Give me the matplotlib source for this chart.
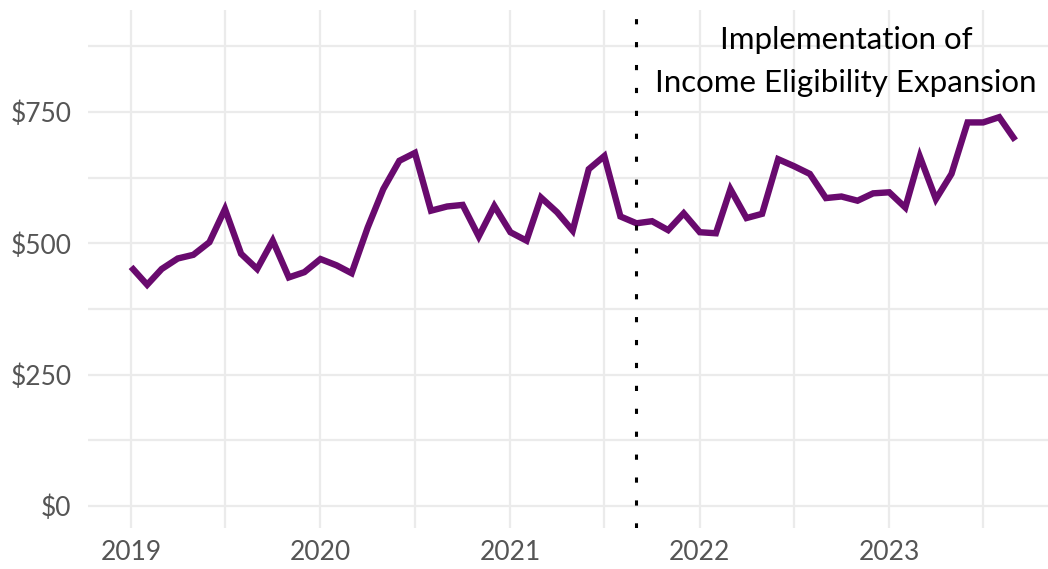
import numpy as np
import pandas as pd
import matplotlib
matplotlib.use("Agg")
import matplotlib.pyplot as plt
import matplotlib.dates as mdates
from matplotlib.ticker import FuncFormatter

# monthly average amount, Jan 2019 - Sep 2023
values = [
    455, 421, 451, 471, 478, 502, 565, 480, 451, 505, 435, 445,  # 2019
    470, 458, 443, 530, 603, 657, 672, 562, 570, 573, 513, 571,  # 2020
    521, 505, 587, 559, 524, 641, 666, 551, 538, 542, 525, 557,  # 2021
    521, 519, 603, 548, 556, 660, 647, 632, 586, 589, 581, 595,  # 2022
    597, 568, 665, 584, 632, 730, 730, 740, 696,                 # 2023
]
start_month = "2019-01-01"
policy_date = "2021-09-01"
note_text = "Implementation of\nIncome Eligibility Expansion"
y_ticks = [0, 250, 500, 750]
year_ticks = ["2019", "2020", "2021", "2022", "2023"]

months = pd.date_range(start_month, periods=len(values), freq="MS")

plt.rcParams["font.family"] = ["Lato", "DejaVu Sans"]

fig = plt.figure(figsize=(10.48, 5.69), dpi=100)
ax = fig.add_axes([88 / 1048, 41 / 569, 960 / 1048, 518 / 569])

grid_col = "#EBEBEB"
for s in ax.spines.values():
    s.set_visible(False)

# gridlines (major + minor, ggplot-minimal style)
ax.set_yticks(y_ticks)
ax.set_yticks([125, 375, 625, 875], minor=True)
ax.set_xticks([pd.Timestamp(y + "-01-01") for y in year_ticks])
ax.set_xticks([pd.Timestamp(y + "-07-01") for y in year_ticks], minor=True)
ax.grid(True, which="both", axis="both", color=grid_col, linewidth=1.6, zorder=0)
ax.tick_params(which="both", length=0)
ax.tick_params(axis="y", labelsize=19, labelcolor="#555555", pad=12)
ax.tick_params(axis="x", labelsize=19, labelcolor="#555555", pad=9)
ax.xaxis.set_major_formatter(mdates.DateFormatter("%Y"))
ax.yaxis.set_major_formatter(FuncFormatter(lambda v, p: f"${v:,.0f}"))

ax.plot(months, values, color="#690A6E", linewidth=4.6, solid_joinstyle="miter",
        solid_capstyle="butt", zorder=3)

ax.axvline(pd.Timestamp(policy_date), color="black", linewidth=2.2,
           linestyle=(0, (1.7, 5.8)), dash_capstyle="butt", zorder=4)

ax.text(pd.Timestamp("2022-10-10"), 846, note_text, ha="center", va="center",
        fontsize=22.5, color="black", linespacing=1.65, zorder=5)

ax.set_xlim(pd.Timestamp("2018-10-10"), pd.Timestamp("2023-11-03"))
ax.set_ylim(-42, 944)

fig.savefig("out.png", dpi=100, facecolor="white")
